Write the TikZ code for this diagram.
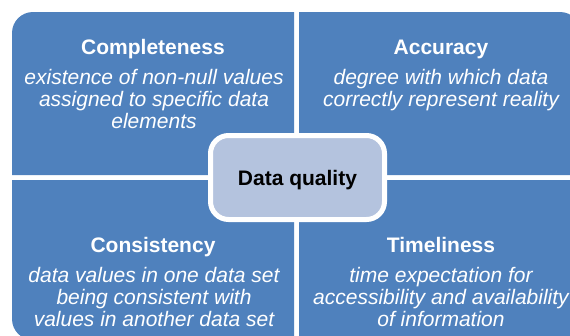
\documentclass[tikz,border=0pt]{standalone}
\usepackage{fontspec}
\setmainfont{Liberation Sans}
\definecolor{blockblue}{HTML}{4F81BD}
\definecolor{centerblue}{HTML}{B4C3DE}
\begin{document}
\begin{tikzpicture}[x=1pt,y=1pt,
  blockfill/.style={fill=blockblue},
  titletext/.style={anchor=base,inner sep=0pt,text=white,font=\fontsize{21}{22}\selectfont\bfseries},
  desctext/.style={anchor=base,inner sep=0pt,text=white,align=center,font=\fontsize{21}{22}\selectfont\itshape},
  centerbox/.style={draw=white,line width=5pt,fill=centerblue,rounded corners=18pt,
    minimum width=174pt,minimum height=84pt,inner sep=0pt,
    text height=17pt,text depth=2pt,font=\fontsize{21}{22}\selectfont\bfseries}]
\useasboundingbox (0,0) rectangle (570,-335);
% four blocks
\fill[blockfill] (12,-175) -- (12,-33) arc[start angle=180,end angle=90,radius=21pt] -- (294,-12) -- (294,-175) -- cycle;
\fill[blockfill] (299,-175) -- (299,-12) -- (560,-12) arc[start angle=90,end angle=0,radius=21pt] -- (581,-175) -- cycle;
\fill[blockfill] (12,-180) -- (294,-180) -- (294,-340) -- (33,-340) arc[start angle=270,end angle=180,radius=21pt] -- cycle;
\fill[blockfill] (299,-180) -- (581,-180) -- (581,-319) arc[start angle=0,end angle=-90,radius=21pt] -- (299,-340) -- cycle;
% texts (multi-line nodes: base = baseline of the last line)
\node[titletext] (t1) at (153,-54) {Completeness};
\node[desctext] (d1) at (154,-128) {existence of non-null values\\assigned to specific data\\elements};
\node[titletext] (t2) at (441,-54) {Accuracy};
\node[desctext] (d2) at (441,-106) {degree with which data\\correctly represent reality};
\node[titletext] (t3) at (153,-252) {Consistency};
\node[desctext] (d3) at (154,-326) {data values in one data set\\being consistent with\\values in another data set};
\node[titletext] (t4) at (441,-252) {Timeliness};
\node[desctext] (d4) at (441,-326) {time expectation for\\accessibility and availability\\of information};
% center
\node[centerbox] (dq) at (297.5,-177.5) {Data quality};
\end{tikzpicture}
\end{document}
